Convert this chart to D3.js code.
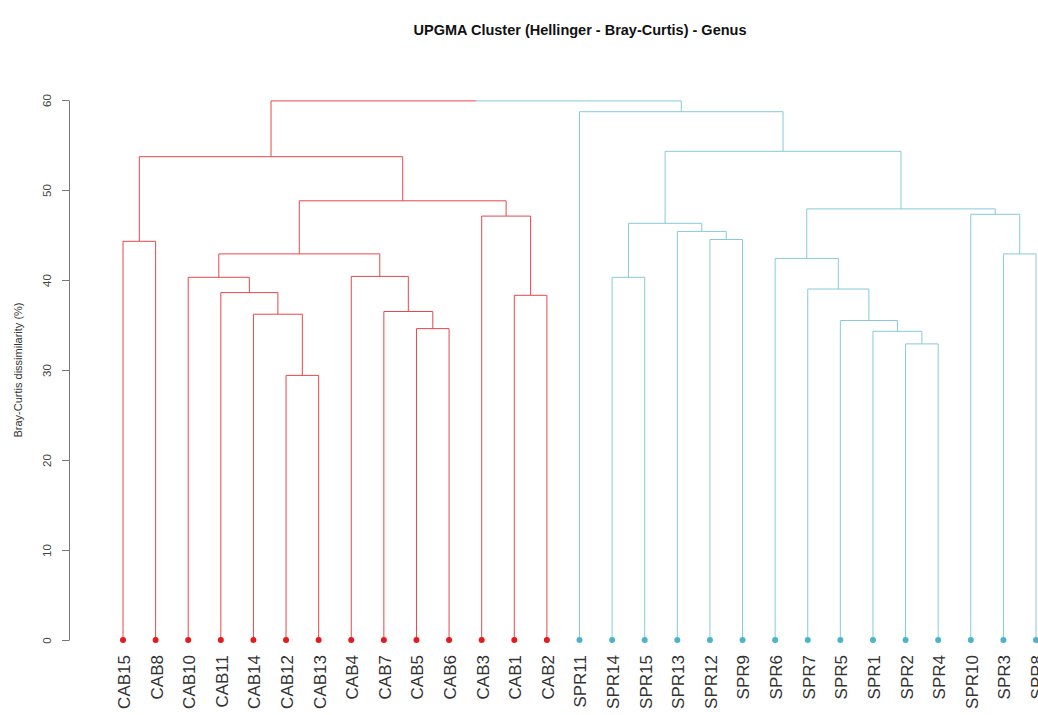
<!DOCTYPE html>
<html>
<head>
<meta charset="utf-8">
<script src="https://cdn.jsdelivr.net/npm/d3@7"></script>
<style>
  html, body { margin: 0; padding: 0; background: #fff; }
  svg { display: block; font-family: "Liberation Sans", Arial, sans-serif; }
</style>
</head>
<body>
<svg id="chart" width="1038" height="715"></svg>
<script>
// Leaf order along the x axis
const leaves = ["CAB15","CAB8","CAB10","CAB11","CAB14","CAB12","CAB13","CAB4","CAB7","CAB5","CAB6","CAB3","CAB1","CAB2",
                "SPR11","SPR14","SPR15","SPR13","SPR12","SPR9","SPR6","SPR7","SPR5","SPR1","SPR2","SPR4","SPR10","SPR3","SPR8"];

// Merge steps: [left, right, height]; strings are leaves, numbers refer to earlier steps (1-based)
const merges = [
  ["CAB12","CAB13",29.4], ["CAB14",1,36.2], ["CAB11",2,38.6], ["CAB10",3,40.3],
  ["CAB5","CAB6",34.6], ["CAB7",5,36.5], ["CAB4",6,40.4], [4,7,42.9],
  ["CAB1","CAB2",38.3], ["CAB3",9,47.1], [8,10,48.8], ["CAB15","CAB8",44.3], [12,11,53.7],
  ["SPR14","SPR15",40.3], ["SPR12","SPR9",44.5], ["SPR13",15,45.4], [14,16,46.3],
  ["SPR2","SPR4",32.9], ["SPR1",18,34.3], ["SPR5",19,35.5], ["SPR7",20,39.0], ["SPR6",21,42.4],
  ["SPR3","SPR8",42.9], ["SPR10",23,47.3], [22,24,47.9], [17,25,54.3], ["SPR11",26,58.7],
  [13,27,59.9]
];

const yTicks = [0, 10, 20, 30, 40, 50, 60];
const groupColors = { CAB: "#e41a1c", SPR: "#4bb4cc" };
const lineColors  = { CAB: "#e8474b", SPR: "#86cad9" };

const svg = d3.select("#chart");
const x = d3.scalePoint().domain(leaves).range([123, 1036]);
const y = d3.scaleLinear().domain([0, 60]).range([640, 100]);

// Build the tree from the merge table
const steps = [];
function ref(r) { return typeof r === "number" ? steps[r - 1] : { name: r, height: 0 }; }
merges.forEach(([a, b, h]) => steps.push({ children: [ref(a), ref(b)], height: h }));
const root = d3.hierarchy(steps[steps.length - 1]);

// Position: leaves on the point scale, internal nodes at the midpoint of children
root.eachAfter(n => {
  if (!n.children) { n.px = x(n.data.name); n.group = n.data.name.slice(0, 3); }
  else {
    n.px = (n.children[0].px + n.children[1].px) / 2;
    const g0 = n.children[0].group, g1 = n.children[1].group;
    n.group = g0 === g1 ? g0 : null;
  }
  n.py = y(n.data.height);
});

const g = svg.append("g");
root.each(n => {
  if (!n.children) return;
  const [c0, c1] = n.children;
  if (n.group) {
    g.append("path")
      .attr("d", `M${c0.px},${c0.py}V${n.py}H${c1.px}V${c1.py}`)
      .attr("fill", "none").attr("stroke", lineColors[n.group]).attr("stroke-width", 1);
  } else {
    // top join: each half takes its child's colour
    g.append("path")
      .attr("d", `M${c0.px},${c0.py}V${n.py}H${n.px}`)
      .attr("fill", "none").attr("stroke", lineColors[c0.group]).attr("stroke-width", 1);
    g.append("path")
      .attr("d", `M${n.px},${n.py}H${c1.px}V${c1.py}`)
      .attr("fill", "none").attr("stroke", lineColors[c1.group]).attr("stroke-width", 1);
  }
});

// Leaf dots
g.selectAll("circle.leaf").data(root.leaves()).join("circle")
  .attr("class", "leaf")
  .attr("cx", d => d.px).attr("cy", d => d.py).attr("r", 3)
  .attr("fill", d => groupColors[d.group]);

// Leaf labels, rotated
g.selectAll("text.leaf").data(root.leaves()).join("text")
  .attr("class", "leaf")
  .attr("transform", d => `translate(${d.px + 1},${y(0) + 15}) rotate(-90)`)
  .attr("text-anchor", "end")
  .attr("dy", "0.35em")
  .attr("font-size", 17)
  .attr("fill", "#333")
  .text(d => d.data.name);

// Y axis with rotated tick labels
const yAxis = svg.append("g")
  .attr("transform", "translate(69,0)")
  .call(d3.axisLeft(y).tickValues(yTicks).tickSize(7).tickSizeOuter(0));
yAxis.select(".domain").attr("stroke", "#777");
yAxis.selectAll(".tick line").attr("stroke", "#777");
yAxis.selectAll(".tick text")
  .attr("font-size", 11.5).attr("fill", "#444")
  .attr("font-family", "Liberation Sans, Arial, sans-serif")
  .attr("transform", "rotate(-90)")
  .attr("x", 0).attr("y", -22)
  .attr("dy", "0.35em")
  .attr("text-anchor", "middle");

svg.append("text")
  .attr("transform", `translate(18,${y(30)}) rotate(-90)`)
  .attr("text-anchor", "middle").attr("dy", "0.35em")
  .attr("font-size", 11).attr("fill", "#333")
  .text("Bray-Curtis dissimilarity (%)");

svg.append("text")
  .attr("x", 580).attr("y", 35)
  .attr("text-anchor", "middle")
  .attr("font-size", 14.5).attr("font-weight", "bold").attr("fill", "#111")
  .text("UPGMA Cluster (Hellinger - Bray-Curtis) - Genus");
</script>
</body>
</html>
